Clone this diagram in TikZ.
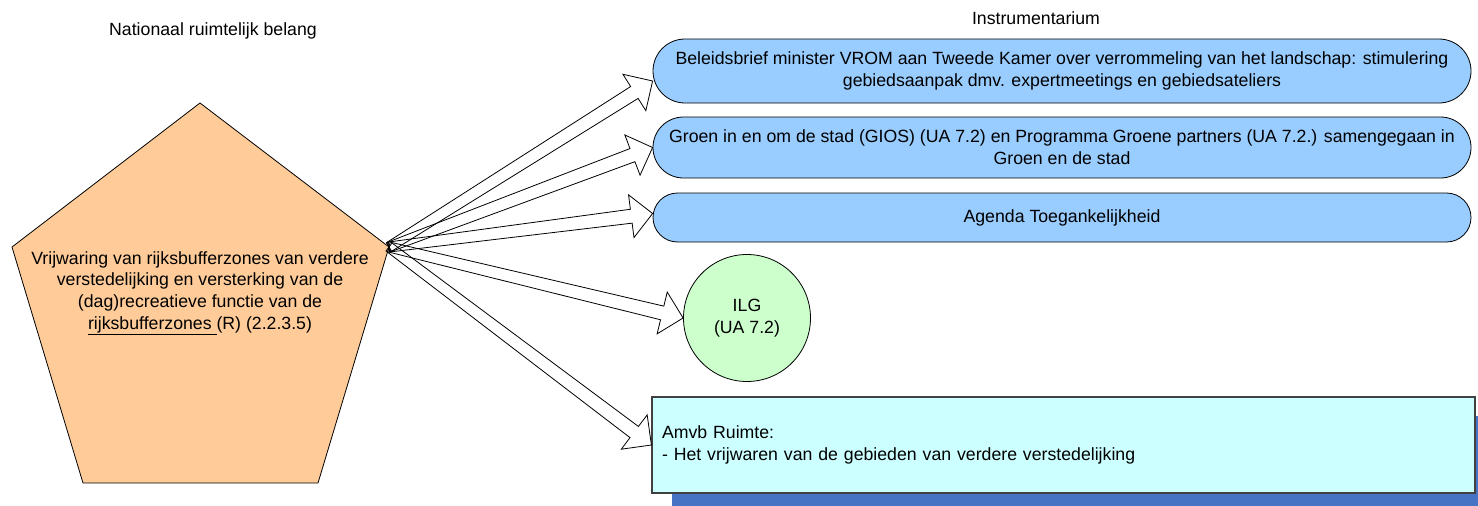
\documentclass[tikz,border=0pt]{standalone}
\usepackage{fontspec}
\setsansfont{Liberation Sans}
\usepackage{tikz}
\usetikzlibrary{calc,shapes.misc,shadows}
\tikzstyle{every picture}+=[font=\sffamily]

\definecolor{peach}{HTML}{FFCC99}
\definecolor{lichtblauw}{HTML}{99CCFF}
\definecolor{lichtgroen}{HTML}{CCFFCC}
\definecolor{lichtcyaan}{HTML}{CCFFFF}
\definecolor{schaduw}{HTML}{4673C4}

% hollow block arrow from #1 to #2
\newcommand{\blokpijl}[2]{%
	\draw[pijl] let \p1 = (#1), \p2 = (#2),
		\n1 = {scalar(atan2(\y2-\y1,\x2-\x1))},
		\n2 = {veclen(\x2-\x1,\y2-\y1)-21.5pt} in
		($(\p1)+(\n1+90:5pt)$) -- ($(\p1)+(\n1:\n2)+(\n1+90:7pt)$)
		-- ($(\p1)+(\n1:\n2)+(\n1+90:21.5pt)$) -- (\p2)
		-- ($(\p1)+(\n1:\n2)+(\n1-90:21.5pt)$)
		-- ($(\p1)+(\n1:\n2)+(\n1-90:7pt)$) -- ($(\p1)+(\n1-90:5pt)$) -- cycle;}

\begin{document}
\begin{tikzpicture}
	[font=\sffamily\fontsize{17.7}{21.7}\selectfont, x=1pt, y=-1pt, inner sep=0pt,
	belang/.style	= {draw, fill=peach, line width=0.8pt, line join=miter},
	instrument/.style	= {rounded rectangle, draw, fill=lichtblauw, line width=0.8pt, minimum width=818pt, align=center},
	rond/.style	= {circle, draw, fill=lichtgroen, line width=0.8pt, minimum size=127pt, align=center},
	regeling/.style	= {rectangle, draw=black!75, fill=lichtcyaan, line width=1.2pt, minimum height=96pt, text width=803pt, inner xsep=10pt, align=left,
		drop shadow={shadow xshift=20pt, shadow yshift=-19pt, fill=schaduw, opacity=1}},
	pijl/.style	= {draw, line width=0.8pt, line join=miter}]

	\useasboundingbox (0,0) rectangle (1478,506);

	\node at (213,31)	(kopbelang)	{Nationaal ruimtelijk belang};
	\node at (1036,18)	(kopinstr)	{Instrumentarium};

	% pentagon
	\path[belang] (200,103) coordinate (ptop) -- (389,247) coordinate (prechts)
		-- (318,483) -- (83,483) -- (12,247) coordinate (plinks) -- cycle;
	\node at (200,293) [align=center]	(doel)	{Vrijwaring van rijksbufferzones van verdere\\
		verstedelijking en versterking van de\\
		(dag)recreatieve functie van de\\
		\underline{rijksbufferzones\ }(R) (2.2.3.5)};
	\coordinate (staart) at (389,247);

	\node at (1062,71)	[instrument, minimum height=64pt]	(brief)	{Beleidsbrief minister VROM aan Tweede Kamer over verrommeling van het landschap: stimulering\\
		gebiedsaanpak dmv. expertmeetings en gebiedsateliers};
	\node at (1062,147.5)	[instrument, minimum height=61pt]	(gios)	{Groen in en om de stad (GIOS) (UA 7.2) en Programma Groene partners (UA 7.2.) samengegaan in\\
		Groen en de stad};
	\node at (1062,217.5)	[instrument, minimum height=49pt]	(toeg)	{Agenda Toegankelijkheid};
	\node at (747,318)	[rond]	(ilg)	{ILG\\(UA 7.2)};
	\node at (1063.5,445)	[regeling]	(amvb)	{Amvb Ruimte:\\
		- Het vrijwaren van de gebieden van verdere verstedelijking};

	\blokpijl{staart}{$(brief.west)+(0,10)$}
	\blokpijl{staart}{gios.west}
	\blokpijl{staart}{$(toeg.west)+(0,-4)$}
	\blokpijl{staart}{ilg.west}
	\blokpijl{staart}{amvb.west}
\end{tikzpicture}
\end{document}
